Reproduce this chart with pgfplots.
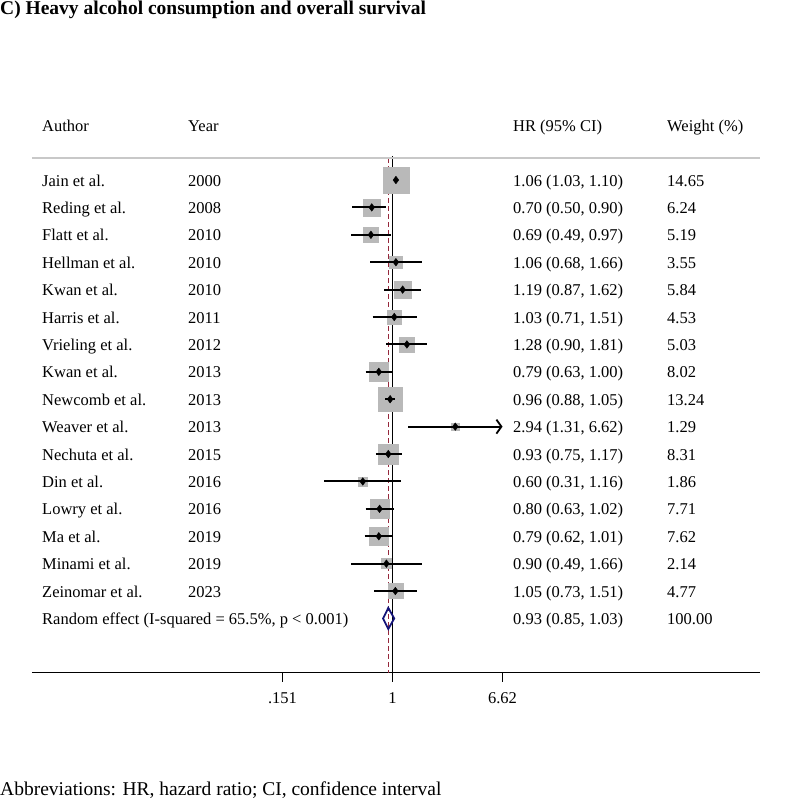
\documentclass[border=0pt]{standalone}
\usepackage{fontspec}
\setmainfont{Liberation Serif}
\usepackage{pgfplots}
\pgfplotsset{compat=1.18}
\usepackage{pgfplotstable}
\usetikzlibrary{arrows.meta}
\definecolor{boxgray}{RGB}{185,185,185}
\definecolor{refred}{RGB}{150,40,60}
\definecolor{navy}{RGB}{20,20,120}
\definecolor{linegray}{RGB}{200,200,200}

\pgfplotstableread{
y    hr   lo   hi   w
-1   1.06 1.03 1.10 14.65
-2   0.70 0.50 0.90 6.24
-3   0.69 0.49 0.97 5.19
-4   1.06 0.68 1.66 3.55
-5   1.19 0.87 1.62 5.84
-6   1.03 0.71 1.51 4.53
-7   1.28 0.90 1.81 5.03
-8   0.79 0.63 1.00 8.02
-9   0.96 0.88 1.05 13.24
-10  2.94 1.31 6.62 1.29
-11  0.93 0.75 1.17 8.31
-12  0.60 0.31 1.16 1.86
-13  0.80 0.63 1.02 7.71
-14  0.79 0.62 1.01 7.62
-15  0.90 0.49 1.66 2.14
-16  1.05 0.73 1.51 4.77
}\studies

\tikzset{txt/.style={anchor=west, inner sep=0pt, text height=12pt, text depth=0pt, font=\fontsize{16.5}{19}\selectfont}}
\newcommand\studyrow[5]{%
  \node[txt] at (axis cs:0.002425,#1) {#2};
  \node[txt] at (axis cs:0.02979,#1) {#3};
  \node[txt] at (axis cs:7.928,#1) {#4};
  \node[txt] at (axis cs:111.78,#1) {#5};
}

\begin{document}
\begin{tikzpicture}
\useasboundingbox (0,0) rectangle (787pt,-808pt);
\node[anchor=base west, inner sep=0pt, font=\fontsize{19.5}{22}\selectfont\bfseries] at (0pt,-15pt) {C) Heavy alcohol consumption and overall survival};
\node[anchor=base west, inner sep=0pt, font=\fontsize{19.5}{22}\selectfont] at (0pt,-795.7pt) {Abbreviations: HR, hazard ratio; CI, confidence interval};
\begin{axis}[
  at={(32pt,-672.7pt)}, anchor=south west,
  scale only axis, width=728pt, height=572.7pt,
  xmode=log, xmin=0.002041, xmax=552.2,
  ymin=-18.98, ymax=1.92,
  axis x line*=bottom, axis y line=none,
  x axis line style={line width=1.3pt, black},
  xtick={0.151,1,6.62}, xticklabels={\textrm{.151},\textrm{1},\textrm{6.62}},
  xminorticks=false,
  major tick length=9pt, tick align=outside,
  major tick style={line width=1.3pt, black},
  xticklabel style={font=\fontsize{16.5}{19}\selectfont, yshift=-7pt},
  clip=false, clip marker paths=true,
]
% reference lines
\addplot[black, line width=1.3pt] coordinates {(1,-0.13) (1,-18.98)};
\addplot[refred, line width=1.2pt, dash pattern=on 5pt off 3pt] coordinates {(0.93,-0.2) (0.93,-18.98)};
\addplot[linegray, line width=2pt] coordinates {(0.002041,-0.197) (552.2,-0.197)};
% weight boxes
\addplot[scatter, only marks, mark=square*,
  scatter/use mapped color={draw=boxgray, fill=boxgray},
  visualization depends on={3.4*sqrt(\thisrow{w}) \as \msz},
  scatter/@pre marker code/.append style={/tikz/mark size=\msz}]
  table[x=hr, y=y] \studies;
% confidence intervals
\addplot[black, line width=2pt, unbounded coords=jump] coordinates {
(1.03,-1) (1.10,-1) (nan,nan)
(0.50,-2) (0.90,-2) (nan,nan)
(0.49,-3) (0.97,-3) (nan,nan)
(0.68,-4) (1.66,-4) (nan,nan)
(0.87,-5) (1.62,-5) (nan,nan)
(0.71,-6) (1.51,-6) (nan,nan)
(0.90,-7) (1.81,-7) (nan,nan)
(0.63,-8) (1.00,-8) (nan,nan)
(0.88,-9) (1.05,-9) (nan,nan)
(0.75,-11) (1.17,-11) (nan,nan)
(0.31,-12) (1.16,-12) (nan,nan)
(0.63,-13) (1.02,-13) (nan,nan)
(0.62,-14) (1.01,-14) (nan,nan)
(0.49,-15) (1.66,-15) (nan,nan)
(0.73,-16) (1.51,-16)
};
\addplot[black, line width=2pt, -{Straight Barb[length=5pt,width=14pt,line width=1.8pt]}] coordinates {(1.31,-10) (6.62,-10)};
% point estimates
\addplot[only marks, mark=diamond*, mark size=3.8pt, black] table[x=hr, y=y] \studies;
% pooled estimate
\addplot[navy, line width=1.8pt, line join=miter] coordinates {(0.85,-17) (0.93,-16.615) (1.03,-17) (0.93,-17.385)} -- cycle;
% text columns
\studyrow{1}{Author}{Year}{HR (95\% CI)}{Weight (\%)}
\studyrow{-1}{Jain et al.}{2000}{1.06 (1.03, 1.10)}{14.65}
\studyrow{-2}{Reding et al.}{2008}{0.70 (0.50, 0.90)}{6.24}
\studyrow{-3}{Flatt et al.}{2010}{0.69 (0.49, 0.97)}{5.19}
\studyrow{-4}{Hellman et al.}{2010}{1.06 (0.68, 1.66)}{3.55}
\studyrow{-5}{Kwan et al.}{2010}{1.19 (0.87, 1.62)}{5.84}
\studyrow{-6}{Harris et al.}{2011}{1.03 (0.71, 1.51)}{4.53}
\studyrow{-7}{Vrieling et al.}{2012}{1.28 (0.90, 1.81)}{5.03}
\studyrow{-8}{Kwan et al.}{2013}{0.79 (0.63, 1.00)}{8.02}
\studyrow{-9}{Newcomb et al.}{2013}{0.96 (0.88, 1.05)}{13.24}
\studyrow{-10}{Weaver et al.}{2013}{2.94 (1.31, 6.62)}{1.29}
\studyrow{-11}{Nechuta et al.}{2015}{0.93 (0.75, 1.17)}{8.31}
\studyrow{-12}{Din et al.}{2016}{0.60 (0.31, 1.16)}{1.86}
\studyrow{-13}{Lowry et al.}{2016}{0.80 (0.63, 1.02)}{7.71}
\studyrow{-14}{Ma et al.}{2019}{0.79 (0.62, 1.01)}{7.62}
\studyrow{-15}{Minami et al.}{2019}{0.90 (0.49, 1.66)}{2.14}
\studyrow{-16}{Zeinomar et al.}{2023}{1.05 (0.73, 1.51)}{4.77}
\studyrow{-17}{Random effect (I-squared = 65.5\%, p < 0.001)}{}{0.93 (0.85, 1.03)}{100.00}
\end{axis}
\end{tikzpicture}
\end{document}
